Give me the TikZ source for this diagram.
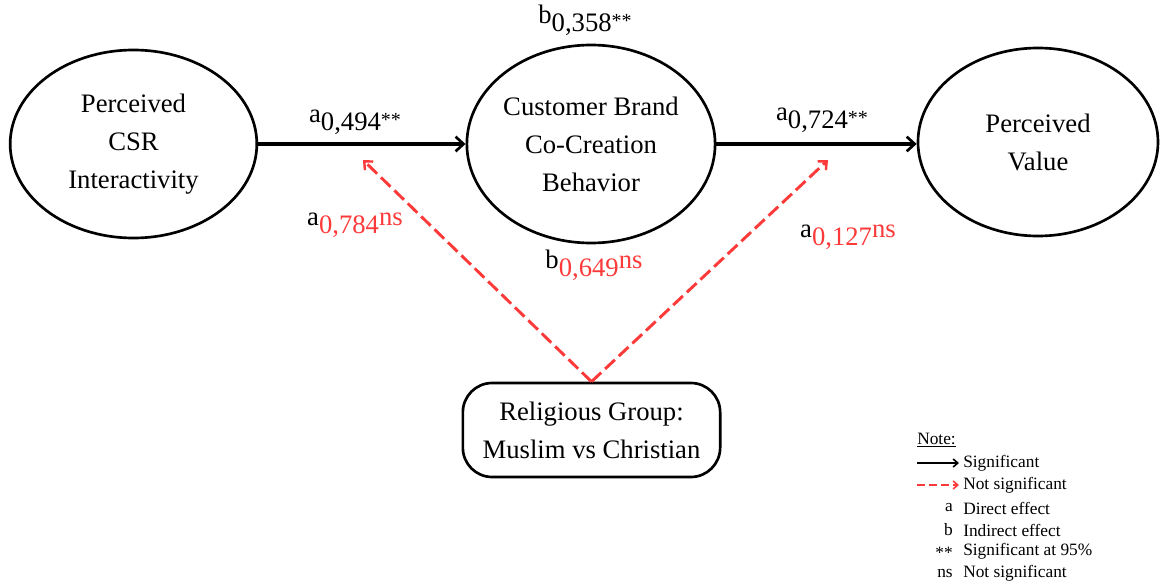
\documentclass[tikz,border=0pt]{standalone}
\usepackage{fontspec}
\setmainfont{Liberation Serif}
\usetikzlibrary{shapes.geometric,arrows.meta}
\definecolor{sigred}{RGB}{252,58,58}
\newcommand{\pcoef}[3]{#1\raisebox{-6pt}{#2}#3}
\newcommand{\stars}{\raisebox{3pt}{\fontsize{15}{15}\selectfont **}}
\begin{document}
\begin{tikzpicture}[x=0.75pt,y=-0.75pt,
  construct/.style={draw,line width=2pt,ellipse,inner sep=0pt,align=center,font=\fontsize{20}{28.5}\selectfont},
  grp/.style={draw,line width=2pt,rounded corners=22pt,align=center,font=\fontsize{20}{28.5}\selectfont,inner sep=0pt,minimum width=193pt,minimum height=70.5pt},
  sigarrow/.style={line width=2.4pt,-{Straight Barb[length=6pt,width=11pt,line width=2pt]}},
  nsarrow/.style={sigred,line width=2.2pt,dash pattern=on 10pt off 4pt,-{Straight Barb[length=5pt,width=9pt,line width=1.8pt]}},
  sigleg/.style={line width=1.4pt,shorten >=3pt,-{Straight Barb[length=3.5pt,width=6pt,line width=1.2pt]}},
  nsleg/.style={sigred,line width=1.4pt,shorten >=3pt,dash pattern=on 6pt off 3pt,-{Straight Barb[length=3.5pt,width=6pt,line width=1.2pt]}},
  coef/.style={font=\fontsize{20}{24}\selectfont,inner sep=0pt},
  legend/.style={font=\fontsize{13}{15}\selectfont,inner sep=0pt,anchor=west},
  legkey/.style={font=\fontsize{13}{15}\selectfont,inner sep=0pt,anchor=east}
]
\useasboundingbox (0,0) rectangle (1161,585);

% constructs
\node[construct,minimum width=185pt,minimum height=141pt] (csr) at (133.5,144) {Perceived\\CSR\\Interactivity};
\node[construct,minimum width=184.5pt,minimum height=148.5pt] (cbcb) at (591,144) {Customer Brand\\Co-Creation\\Behavior};
\node[construct,minimum width=180pt,minimum height=141pt] (pv) at (1038,142) {Perceived\\Value};
\node[grp] (rg) at (591.5,430) {Religious Group:\\Muslim vs Christian};

% significant paths
\draw[sigarrow] (csr.east) -- (cbcb.west);
\draw[sigarrow] (cbcb.east) -- (cbcb.east -| pv.west);

% moderation (not significant)
\coordinate (m1) at (363,160);
\coordinate (m2) at (828,160);
\draw[nsarrow] (rg.north) -- (m1);
\draw[nsarrow] (rg.north) -- (m2);

% coefficients
\node[coef] (c1) at (355,122) {\pcoef{a}{0,494\stars}{}};
\node[coef] (c2) at (585,20) {\pcoef{b}{0,358\stars}{}};
\node[coef] (c3) at (822,120) {\pcoef{a}{0,724\stars}{}};
\node[coef] (c4) at (355,225) {\pcoef{a}{\textcolor{sigred}{0,784}}{\textcolor{sigred}{ns}}};
\node[coef] (c5) at (594,265) {\pcoef{b}{\textcolor{sigred}{0,649}}{\textcolor{sigred}{ns}}};
\node[coef] (c6) at (848,237) {\pcoef{a}{\textcolor{sigred}{0,127}}{\textcolor{sigred}{ns}}};

% legend
\node[legend] (note) at (917,440) {\underline{Note:}};
\node[legend] (lsig) at (963,463) {Significant};
\coordinate (ls0) at (917,463);
\draw[sigleg] (ls0) -- (lsig.west);
\node[legend] (lns) at (963,485) {Not significant};
\coordinate (ln0) at (917,485);
\draw[nsleg] (ln0) -- (lns.west);
\node[legend] (lde) at (963,508) {Direct effect};
\node[legkey] (kde) at (953,508) {a};
\node[legend] (lie) at (963,530) {Indirect effect};
\node[legkey] (kie) at (953,530) {b};
\node[legend] (l95) at (963,551) {Significant at 95\%};
\node[legkey] (k95) at (953,553) {**};
\node[legend] (lnsg) at (963,573) {Not significant};
\node[legkey] (knsg) at (953,573) {ns};
\end{tikzpicture}
\end{document}
